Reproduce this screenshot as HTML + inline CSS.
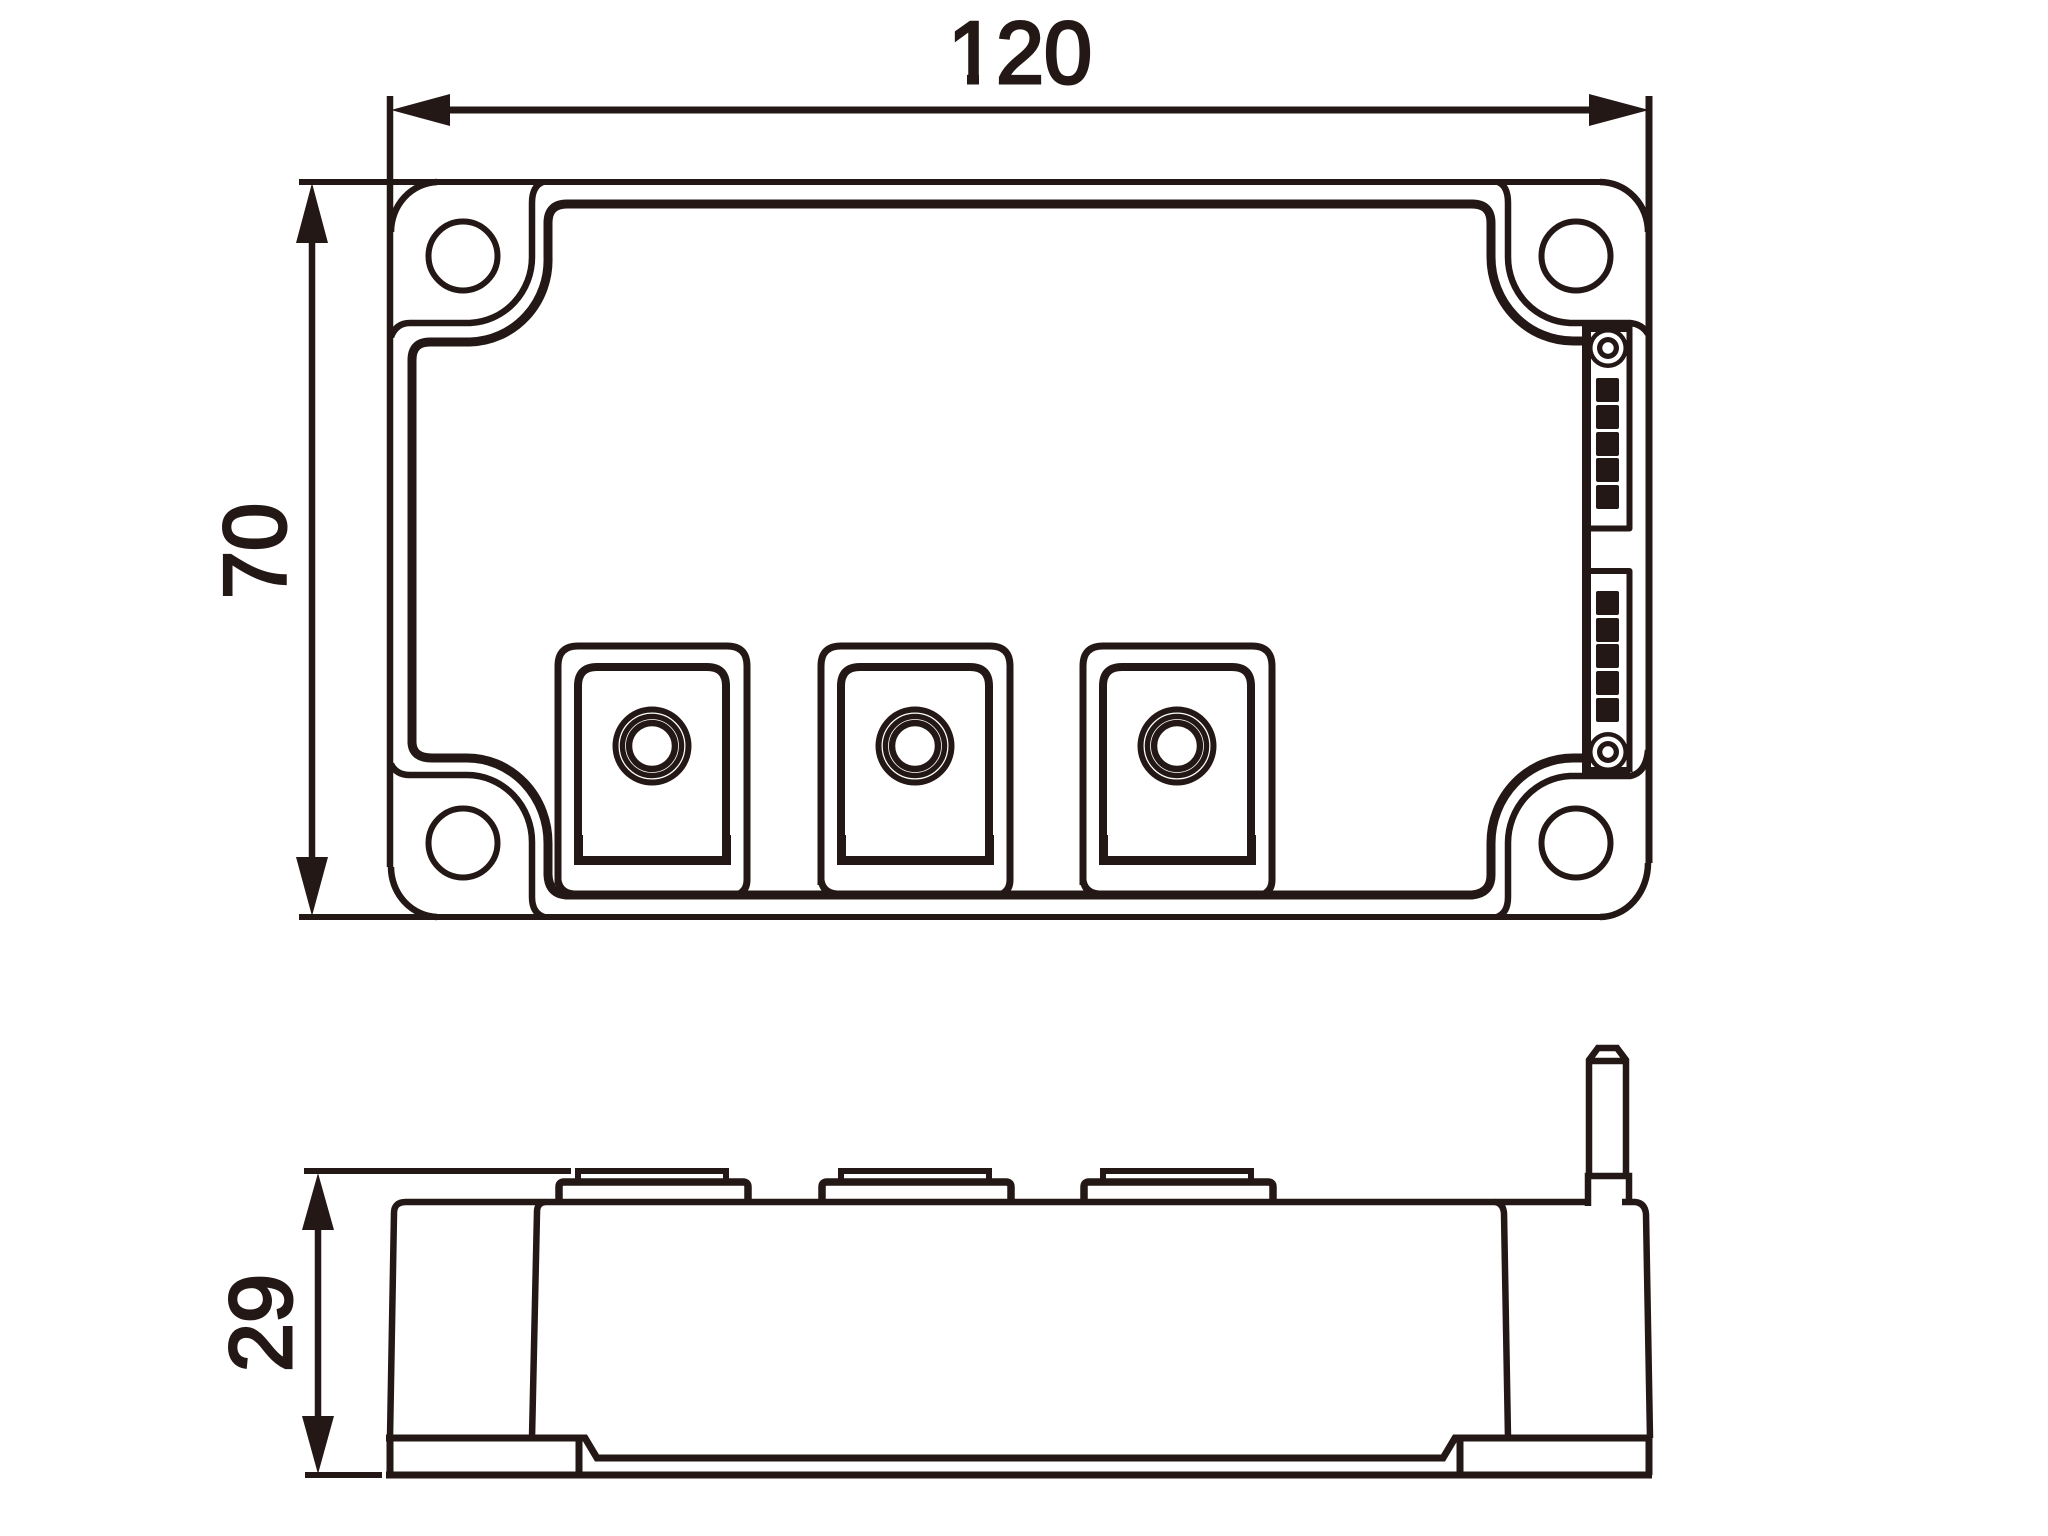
<!DOCTYPE html>
<html><head><meta charset="utf-8"><style>
html,body{margin:0;padding:0;background:#fff}
svg{display:block}
text{font-family:"Liberation Sans",sans-serif;font-size:88px;fill:#231815;stroke:#231815;stroke-width:3px}
</style></head><body>
<svg width="2048" height="1536" viewBox="0 0 2048 1536" xmlns="http://www.w3.org/2000/svg">
<rect width="2048" height="1536" fill="#fff"/>
<g fill="none" stroke="#231815" stroke-width="6.5" stroke-linejoin="round">
<!-- dimension lines -->
<path d="M299 182H1600M299 917H1600" stroke-width="6"/>
<path d="M445 110H1595" stroke-width="7"/>
<path d="M312 240V860" stroke-width="6.5"/>
<path d="M318 1225V1420" stroke-width="6.5"/>
<path d="M304 1171H571M305 1475H382" stroke-width="6"/>
<!-- outline -->
<path d="M390 96V867" stroke-width="6.5"/>
<path d="M1649 96V863" stroke-width="7"/>
<path d="M437 182A48 50 0 0 0 391 232M391 867A48 50 0 0 0 437 917"/>
<path d="M1600 182A48 50 0 0 1 1648 232M1648 863A48 54 0 0 1 1600 917"/>
<circle cx="463" cy="256" r="34.5" stroke-width="6"/>
<circle cx="1576" cy="256" r="34.5" stroke-width="6"/>
<circle cx="463" cy="843" r="34.5" stroke-width="6"/>
<circle cx="1576" cy="843" r="34.5" stroke-width="6"/>
<!-- line 1 -->
<path d="M543 182Q532 186 532 203V257A65 66 0 0 1 470 323H410Q396 323 391 337"/>
<path d="M1498 182Q1508 186 1508 203V257A65 66 0 0 0 1570 323H1630Q1642 324 1648 334"/>
<path d="M391 764Q396 775 410 775H467A65 67 0 0 1 532 842V897Q532 913 544 917"/>
<path d="M1648 750Q1646 773 1630 776H1570A65 67 0 0 0 1508 843V897Q1508 913 1497 917"/>
<!-- thick line -->
<g stroke-width="9">
<path d="M412 362V360Q412 342 430 342H470A80 82 0 0 0 548 257V223Q548 204 567 204H1472Q1491 204 1491 223V257A82 84 0 0 0 1573 341H1587"/>
<path d="M412 360V743Q413 758 432 758H467A81 85 0 0 1 548 843V875Q549 895 568 895H1472Q1491 893 1491 875V843A82 85 0 0 1 1573 758H1587"/>
</g>
<!-- connector boxes -->
<path d="M1586.500 323V778" stroke-width="9"/>
<path d="M1586 326.500H1630" stroke-width="11"/>
<path d="M1586 772.500H1630" stroke-width="11"/>
<path d="M1629.500 326V528.500H1590M1629.500 772V571H1590" stroke-width="6"/>
</g>
<g fill="#231815">
<!-- arrowheads -->
<path d="M391 110L450 94V126Z"/>
<path d="M1649 110L1589 94V126Z"/>
<path d="M312 183L296 243H328Z"/>
<path d="M312 916L296 857H328Z"/>
<path d="M318 1173L302 1230H334Z"/>
<path d="M318 1474L302 1416H334Z"/>
<!-- contact pads -->
<rect x="1596" y="378" width="23" height="24" rx="2"/>
<rect x="1596" y="405" width="23" height="24" rx="2"/>
<rect x="1596" y="432" width="23" height="24" rx="2"/>
<rect x="1596" y="458" width="23" height="24" rx="2"/>
<rect x="1596" y="485" width="23" height="24" rx="2"/>
<rect x="1596" y="591" width="23" height="24" rx="2"/>
<rect x="1596" y="618" width="23" height="24" rx="2"/>
<rect x="1596" y="644" width="23" height="24" rx="2"/>
<rect x="1596" y="671" width="23" height="24" rx="2"/>
<rect x="1596" y="698" width="23" height="24" rx="2"/>
<circle cx="1608" cy="348" r="20"/><circle cx="1608" cy="348" r="15.500" fill="#fff"/><circle cx="1608" cy="348" r="11"/><circle cx="1608" cy="348" r="5.700" fill="#fff"/>
<circle cx="1608" cy="752" r="20"/><circle cx="1608" cy="752" r="15.500" fill="#fff"/><circle cx="1608" cy="752" r="11"/><circle cx="1608" cy="752" r="5.700" fill="#fff"/>
</g>
<!-- terminals top view -->
<g fill="none" stroke="#231815">
<g><path d="M558 885V666Q558 646 578 646H727Q747 646 747 666V880Q747 890 739 894M558 880Q560 893 574 894" stroke-width="7" fill="#fff"/><path d="M578 836V686Q578 667 597 667H707Q726 667 726 686V836" stroke-width="8"/><path d="M578.500 835V860.500H726.500V835" stroke-width="9"/><circle cx="652" cy="746" r="36.500" stroke-width="6"/><circle cx="652" cy="746" r="26" stroke-width="12.500"/><circle cx="652" cy="746" r="26.500" stroke="#fff" stroke-width=".8"/></g>
<g transform="translate(263 0)"><path d="M558 885V666Q558 646 578 646H727Q747 646 747 666V880Q747 890 739 894M558 880Q560 893 574 894" stroke-width="7" fill="#fff"/><path d="M578 836V686Q578 667 597 667H707Q726 667 726 686V836" stroke-width="8"/><path d="M578.500 835V860.500H726.500V835" stroke-width="9"/><circle cx="652" cy="746" r="36.500" stroke-width="6"/><circle cx="652" cy="746" r="26" stroke-width="12.500"/><circle cx="652" cy="746" r="26.500" stroke="#fff" stroke-width=".8"/></g>
<g transform="translate(525 0)"><path d="M558 885V666Q558 646 578 646H727Q747 646 747 666V880Q747 890 739 894M558 880Q560 893 574 894" stroke-width="7" fill="#fff"/><path d="M578 836V686Q578 667 597 667H707Q726 667 726 686V836" stroke-width="8"/><path d="M578.500 835V860.500H726.500V835" stroke-width="9"/><circle cx="652" cy="746" r="36.500" stroke-width="6"/><circle cx="652" cy="746" r="26" stroke-width="12.500"/><circle cx="652" cy="746" r="26.500" stroke="#fff" stroke-width=".8"/></g>
</g>
<path d="M565 895H1472" fill="none" stroke="#231815" stroke-width="9"/>
<!-- side view -->
<g fill="none" stroke="#231815" stroke-width="6.5" stroke-linejoin="miter">
<path d="M390 1438L394 1213Q394 1202 406 1202H1588" />
<path d="M532 1438L537 1212Q537 1203 545 1202"/>
<path d="M1495 1202Q1503 1203 1504 1213L1508 1438"/>
<path d="M1622 1202H1635Q1645 1203 1646 1214L1650 1438"/>
<path d="M386 1438H585L597 1458H1443L1455 1438H1652" stroke-width="7"/>
<path d="M390 1436V1475M579 1438V1475M1460 1438V1475M1649 1436V1475" stroke-width="7"/>
<path d="M386 1475H1652" stroke-width="7"/>
<path d="M1588 1206V1176H1629V1202" stroke-width="6.500"/>
<path d="M1589 1176V1060L1598 1048H1617L1626 1060V1176M1589 1061H1626" stroke-width="6.500"/>
<g><path d="M559 1201V1187Q559 1182 564 1182H743Q748 1182 748 1187V1201" stroke-width="7.500"/><path d="M578 1182V1171H726V1182" stroke-width="6"/></g>
<g transform="translate(263 0)"><path d="M559 1201V1187Q559 1182 564 1182H743Q748 1182 748 1187V1201" stroke-width="7.500"/><path d="M578 1182V1171H726V1182" stroke-width="6"/></g>
<g transform="translate(525 0)"><path d="M559 1201V1187Q559 1182 564 1182H743Q748 1182 748 1187V1201" stroke-width="7.500"/><path d="M578 1182V1171H726V1182" stroke-width="6"/></g>
</g>
<!-- labels -->
<text x="948" y="83" textLength="144" lengthAdjust="spacingAndGlyphs">120</text>
<rect x="944" y="74" width="23" height="14" fill="#fff"/>
<rect x="979" y="74" width="18" height="14" fill="#fff"/>
<text transform="translate(285 599) rotate(-90)" textLength="96" lengthAdjust="spacingAndGlyphs">70</text>
<text transform="translate(291 1372) rotate(-90)" textLength="98" lengthAdjust="spacingAndGlyphs">29</text>
</svg>
</body></html>
